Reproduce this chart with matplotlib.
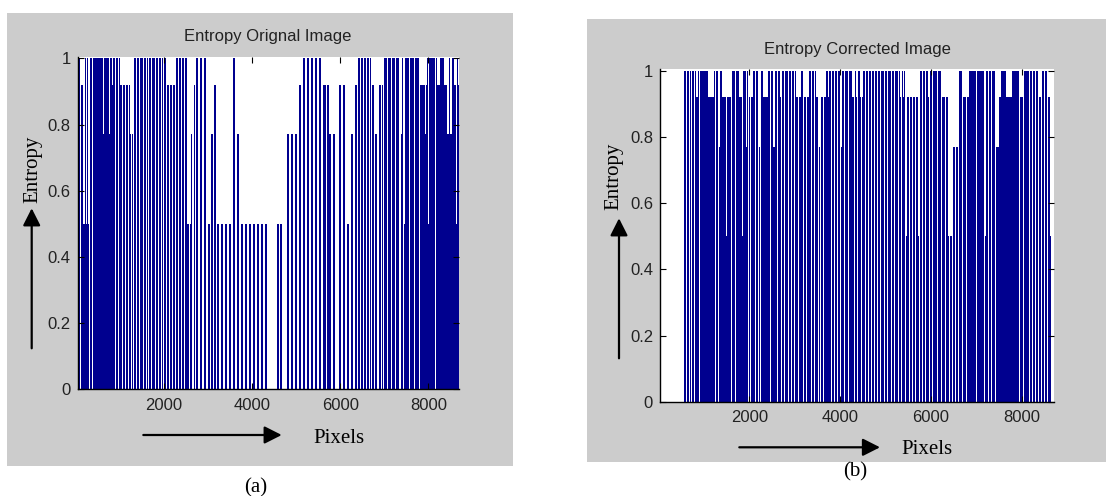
import numpy as np
import matplotlib.pyplot as plt
from matplotlib import font_manager as fm
from matplotlib.patches import Rectangle

# entropy per pixel column, one code per column:
# 1 -> 1.0, 9 -> 0.92, 7 -> 0.77, 5 -> 0.5, 0 -> 0
entropy_levels = {'1': 1.0, '9': 0.92, '7': 0.77, '5': 0.5, '0': 0.0}

orig_codes = (
    "110995515150110"
    "1111111111711111711911011"
    "01990990990970770110"
    "110111011010110111011011010110990990"
    "99011011011011550570090"
    "110011001100"
    "550770990550055005500550"
    "01100770"
    "055005500550055005500550055"
    "0000000000"
    "5505500000"
    "770077007700990"
    "011001100110011001100999099"
    "77007700009900990055007700990"
    "11011011011010990770099090"
    "11101110111011100710551"
    "11101111011110999"
    "997915111111019991111999771771199519"
)

corr_codes = (
    "1101101011019910"
    "111111119999991011"
    "0"
    "711999959999"
    "0"
    "11101119995111710"
    "909911011070"
    "11999991101177"
    "11011901101" "1101101101" "99099" "110" "99099" "1101101" "990" "70"
    "99099119" "110110110110" "7" "1101110111" "99019011909"
    "110110110" "11011101101110110111011011101" "9" "01910"
    "5990990990995" "011011011" "9" "01101"
    "1110111" "0999099" "50550" "77077" "01110" "999099"
    "111111101111111"
    "05110"
    "1101110" "777" "9911111999999" "1111111"
    "09990111"
    "110110110110" "990" "110110" "995"
)

# pixel range covered by each profile
orig_span = (35, 8705)
corr_span = (563, 8640)

x_limits = (35, 8705)
xticks = [2000, 4000, 6000, 8000]
yticks = [0, 0.2, 0.4, 0.6, 0.8, 1]
ytick_labels = ['0', '0.2', '0.4', '0.6', '0.8', '1']
titles = ['Entropy Orignal Image', 'Entropy Corrected Image']
panel_tags = ['(a)', '(b)']

W, H = 1106, 496
bar_color = '#00008f'
panel_gray = '#cccccc'

try:
    fm.findfont(fm.FontProperties(family='Liberation Sans Narrow'), fallback_to_default=False)
    tick_font = {'family': 'Liberation Sans Narrow', 'size': 14}
except ValueError:
    tick_font = {'family': 'Liberation Sans', 'size': 12}

fig = plt.figure(figsize=(W / 100, H / 100), dpi=100)
fig.patch.set_facecolor('white')


def frac_rect(l, t, r, b):
    return [l / W, 1 - b / H, (r - l) / W, (b - t) / H]


def fig_text(x, y, s, **kw):
    fig.text(x / W, 1 - y / H, s, **kw)


def arrow(x0, y0, x1, y1):
    fig.add_artist(plt.Annotation(
        '', xy=(x1, H - y1), xytext=(x0, H - y0),
        xycoords='figure pixels', textcoords='figure pixels',
        arrowprops=dict(arrowstyle='-|>,head_length=0.75,head_width=0.38',
                        mutation_scale=14, lw=1.6, color='black',
                        shrinkA=0, shrinkB=0),
        annotation_clip=False))


def draw_panel(codes, span, gray_box, ax_box, title, title_pos, tag, tag_pos,
               ylab_pos, yarrow, plab_pos, xarrow):
    l, t, r, b = gray_box
    fig.add_artist(Rectangle((l / W, 1 - b / H), (r - l) / W, (b - t) / H,
                             transform=fig.transFigure, facecolor=panel_gray,
                             edgecolor='none', zorder=0))
    ax = fig.add_axes(frac_rect(*ax_box))
    heights = np.array([entropy_levels[c] for c in codes])
    edges = np.linspace(span[0], span[1], len(heights) + 1)
    ax.stairs(heights, edges, fill=True, color=bar_color, baseline=0)

    ax.set_xlim(*x_limits)
    ax.set_ylim(0, 1.005)
    ax.set_facecolor('white')
    ax.set_xticks(xticks)
    ax.set_xticklabels([str(v) for v in xticks], fontdict=tick_font, color='#222222')
    ax.set_yticks(yticks)
    ax.set_yticklabels(ytick_labels, fontdict=tick_font, color='#222222')
    ax.tick_params(direction='in', length=4, width=0.8, top=True, right=True)
    ax.tick_params(axis='y', pad=5)
    ax.tick_params(axis='x', pad=6)
    for side in ['top', 'right']:
        ax.spines[side].set_visible(False)
    for side in ['left', 'bottom']:
        ax.spines[side].set_linewidth(1.0)

    fig_text(*title_pos, title, family='Liberation Sans', fontsize=12,
             color='#222222', ha='center', va='baseline')
    fig_text(*ylab_pos, 'Entropy', family='Liberation Serif', fontsize=15,
             rotation=90, ha='center', va='center')
    fig_text(*plab_pos, 'Pixels', family='Liberation Serif', fontsize=15,
             ha='center', va='baseline')
    fig_text(*tag_pos, tag, family='Liberation Serif', fontsize=15,
             ha='center', va='center')
    arrow(*yarrow)
    arrow(*xarrow)
    return ax


draw_panel(orig_codes, orig_span,
           gray_box=(7.3, 13.3, 512.7, 466), ax_box=(77.7, 56.7, 459.3, 389.3),
           title=titles[0], title_pos=(267.5, 40.7),
           tag=panel_tags[0], tag_pos=(256, 488),
           ylab_pos=(32.5, 169.7), yarrow=(31.7, 348.3, 31.7, 208.3),
           plab_pos=(339.2, 443.3), xarrow=(143.3, 435, 281.7, 435))

draw_panel(corr_codes, corr_span,
           gray_box=(587.3, 19, 1106, 461.7), ax_box=(660, 69.3, 1054, 401.7),
           title=titles[1], title_pos=(857, 54.3),
           tag=panel_tags[1], tag_pos=(855, 471.7),
           ylab_pos=(614.2, 176.7), yarrow=(619, 358.3, 619, 218.3),
           plab_pos=(927, 454), xarrow=(739.3, 447.3, 880, 447.3))

fig.savefig('out.png', dpi=100)
